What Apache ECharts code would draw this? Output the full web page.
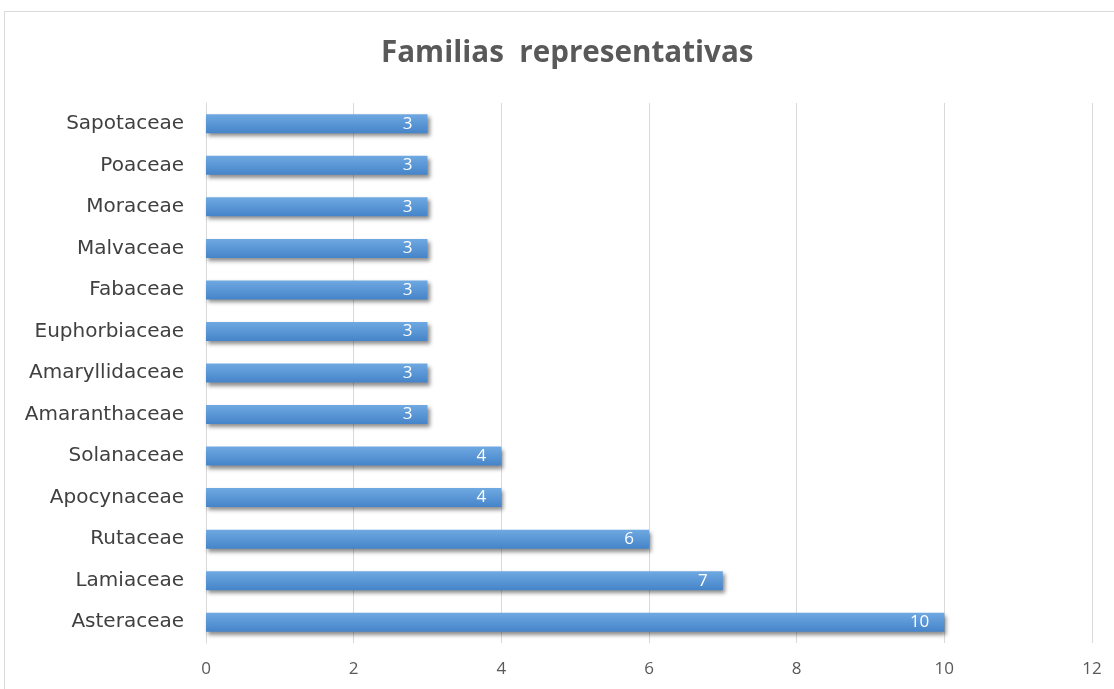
<!DOCTYPE html>
<html>
<head>
<meta charset="utf-8">
<script src="https://cdn.jsdelivr.net/npm/echarts@6/dist/echarts.min.js"></script>
<style>
  html, body { margin: 0; padding: 0; background: #ffffff; }
  #chart { width: 1114px; height: 689px; }
</style>
</head>
<body>
<div id="chart"></div>
<script>
// Plant families, listed top to bottom
const categories = [
  'Sapotaceae', 'Poaceae', 'Moraceae', 'Malvaceae', 'Fabaceae',
  'Euphorbiaceae', 'Amaryllidaceae', 'Amaranthaceae', 'Solanaceae',
  'Apocynaceae', 'Rutaceae', 'Lamiaceae', 'Asteraceae'
];
// Number of species per family
const values = [3, 3, 3, 3, 3, 3, 3, 3, 4, 4, 6, 7, 10];
const xTicks = [0, 2, 4, 6, 8, 10, 12];

const chart = echarts.init(document.getElementById('chart'), null, { renderer: 'canvas' });

chart.setOption({
  backgroundColor: '#ffffff',
  animation: false,
  graphic: [{
    type: 'rect',
    shape: { x: 4.5, y: 11.5, width: 1200, height: 800 },
    style: { fill: 'none', stroke: '#d9d9d9', lineWidth: 1 },
    silent: true,
    z: -10
  }],
  title: {
    text: 'Familias  representativas',
    left: 381,
    top: 39,
    padding: 0,
    textStyle: {
      fontFamily: 'Open Sans',
      fontWeight: 'bold',
      fontSize: 29.6,
      color: '#595959'
    }
  },
  grid: { left: 206, right: 22, top: 103, bottom: 46, containLabel: false },
  xAxis: {
    type: 'value',
    min: 0,
    max: xTicks[xTicks.length - 1],
    interval: 2,
    axisLine: { show: false },
    axisTick: { show: false },
    splitLine: { show: true, lineStyle: { color: '#d9d9d9', width: 1 } },
    axisLabel: {
      color: '#595959',
      fontFamily: 'Open Sans',
      fontSize: 17,
      margin: 18
    }
  },
  yAxis: {
    type: 'category',
    data: categories,
    inverse: true,
    axisLine: { show: true, lineStyle: { color: '#d9d9d9' } },
    axisTick: { show: false },
    axisLabel: {
      color: '#404040',
      fontFamily: 'DejaVu Sans',
      fontSize: 20,
      margin: 22
    }
  },
  series: [{
    type: 'bar',
    data: values,
    barWidth: 19,
    itemStyle: {
      color: new echarts.graphic.LinearGradient(0, 0, 0, 1, [
        { offset: 0, color: '#6fa9e2' },
        { offset: 1, color: '#4584c9' }
      ]),
      shadowColor: 'rgba(0,0,0,0.45)',
      shadowBlur: 4,
      shadowOffsetX: 2,
      shadowOffsetY: 3
    },
    label: {
      show: true,
      position: 'insideRight',
      distance: 15,
      color: '#ffffff',
      fontFamily: 'Open Sans',
      fontSize: 17
    }
  }]
});
</script>
</body>
</html>
